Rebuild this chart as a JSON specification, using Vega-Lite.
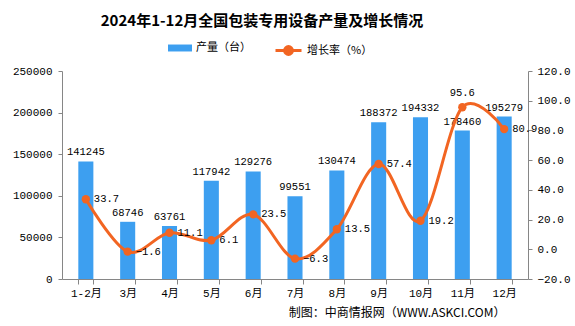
{
  "$schema": "https://vega.github.io/schema/vega-lite/v6.json",
  "width": 466,
  "height": 208,
  "autosize": {"type": "none"},
  "padding": {"left": 62, "top": 71, "right": 47, "bottom": 47},
  "background": "white",
  "config": {
    "font": "Liberation Mono, Noto Sans CJK SC",
    "view": {"stroke": null},
    "axis": {"grid": false, "domainColor": "#868686", "tickColor": "#868686", "labelColor": "#000000", "labelFont": "Liberation Mono, Noto Sans CJK SC", "labelFontSize": 11, "tickSize": 4, "labelOverlap": false}
  },
  "title": {"text": "2024年1-12月全国包装专用设备产量及增长情况", "font": "Noto Sans CJK SC", "fontSize": 15, "fontWeight": "bold", "anchor": "middle", "dx": -33, "offset": 7, "color": "#000000"},
  "data": {"values": [
    {"month": "1-2月", "output": 141245, "growth": 33.7},
    {"month": "3月", "output": 68746, "growth": -1.6},
    {"month": "4月", "output": 63761, "growth": 11.1},
    {"month": "5月", "output": 117942, "growth": 6.1},
    {"month": "6月", "output": 129276, "growth": 23.5},
    {"month": "7月", "output": 99551, "growth": -6.3},
    {"month": "8月", "output": 130474, "growth": 13.5},
    {"month": "9月", "output": 188372, "growth": 57.4},
    {"month": "10月", "output": 194332, "growth": 19.2},
    {"month": "11月", "output": 178460, "growth": 95.6},
    {"month": "12月", "output": 195279, "growth": 80.9}
  ]},
  "encoding": {
    "x": {"field": "month", "type": "ordinal", "sort": null,
      "scale": {"paddingInner": 0.64, "paddingOuter": 0.39},
      "axis": {"labelAngle": 0, "tickBand": "extent", "tickSize": 5, "labelPadding": 3,
        "title": "制图：中商情报网（WWW.ASKCI.COM）", "titleFont": "Noto Sans CJK SC", "titleFontSize": 12, "titleFontWeight": "normal", "titleColor": "#000000",
        "titleAlign": "right", "titleAnchor": null, "titleX": 443, "titleY": 33, "titleBaseline": "middle"}}
  },
  "layer": [
    {
      "encoding": {"y": {"field": "output", "type": "quantitative", "scale": {"domain": [0, 250000], "nice": false},
        "axis": {"orient": "left", "title": null, "values": [0, 50000, 100000, 150000, 200000, 250000], "format": "d", "labelPadding": 6, "labelOverlap": false}}},
      "layer": [
        {"mark": {"type": "bar"},
         "encoding": {
           "fill": {"datum": "产量（台）", "scale": {"range": ["#3d9ff0"]},
             "legend": {"orient": "none", "legendX": 106, "legendY": -35, "title": null, "padding": 0,
               "symbolType": "M-1,-0.29H1V0.29H-1Z", "symbolSize": 576, "symbolStrokeWidth": 0,
               "labelFont": "Noto Sans CJK SC", "labelFontSize": 11, "labelColor": "#000000", "labelOffset": 4}}
         }},
        {"mark": {"type": "text", "baseline": "bottom", "dy": -4, "fontSize": 10.5, "color": "#000000"},
         "encoding": {"text": {"field": "output", "type": "quantitative", "format": "d"}}}
      ]
    },
    {
      "encoding": {"y": {"field": "growth", "type": "quantitative", "scale": {"domain": [-20, 120], "nice": false, "zero": false},
        "axis": {"orient": "right", "title": null, "values": [-20, 0, 20, 40, 60, 80, 100, 120], "tickCount": 8, "format": ".1f", "labelPadding": 5, "labelOverlap": false, "labelFlush": false}}},
      "layer": [
        {"mark": {"type": "line", "interpolate": "cardinal", "strokeWidth": 3},
         "encoding": {
           "stroke": {"datum": "增长率（%）", "scale": {"range": ["#f26522"]},
             "legend": {"orient": "none", "legendX": 212, "legendY": -35, "title": null, "padding": 0,
               "symbolType": "M-1,0H1M-0.3,0A0.3,0.3 0 1,0 0.3,0A0.3,0.3 0 1,0 -0.3,0", "symbolSize": 676, "symbolStrokeWidth": 3, "symbolFillColor": "#f26522",
               "labelFont": "Noto Sans CJK SC", "labelFontSize": 11, "labelColor": "#000000", "labelOffset": 4}}
         }},
        {"mark": {"type": "point", "filled": true, "size": 70, "color": "#f26522", "opacity": 1}},
        {"transform": [{"filter": "datum.month !== '11月'"}],
         "mark": {"type": "text", "align": "left", "baseline": "middle", "dx": 8, "fontSize": 10.5, "color": "#000000"},
         "encoding": {"text": {"field": "growth", "type": "quantitative", "format": ".1f"}}},
        {"transform": [{"filter": "datum.month === '11月'"}],
         "mark": {"type": "text", "align": "center", "baseline": "middle", "dy": -14, "fontSize": 10.5, "color": "#000000"},
         "encoding": {"text": {"field": "growth", "type": "quantitative", "format": ".1f"}}}
      ]
    }
  ],
  "resolve": {"scale": {"y": "independent"}}
}
